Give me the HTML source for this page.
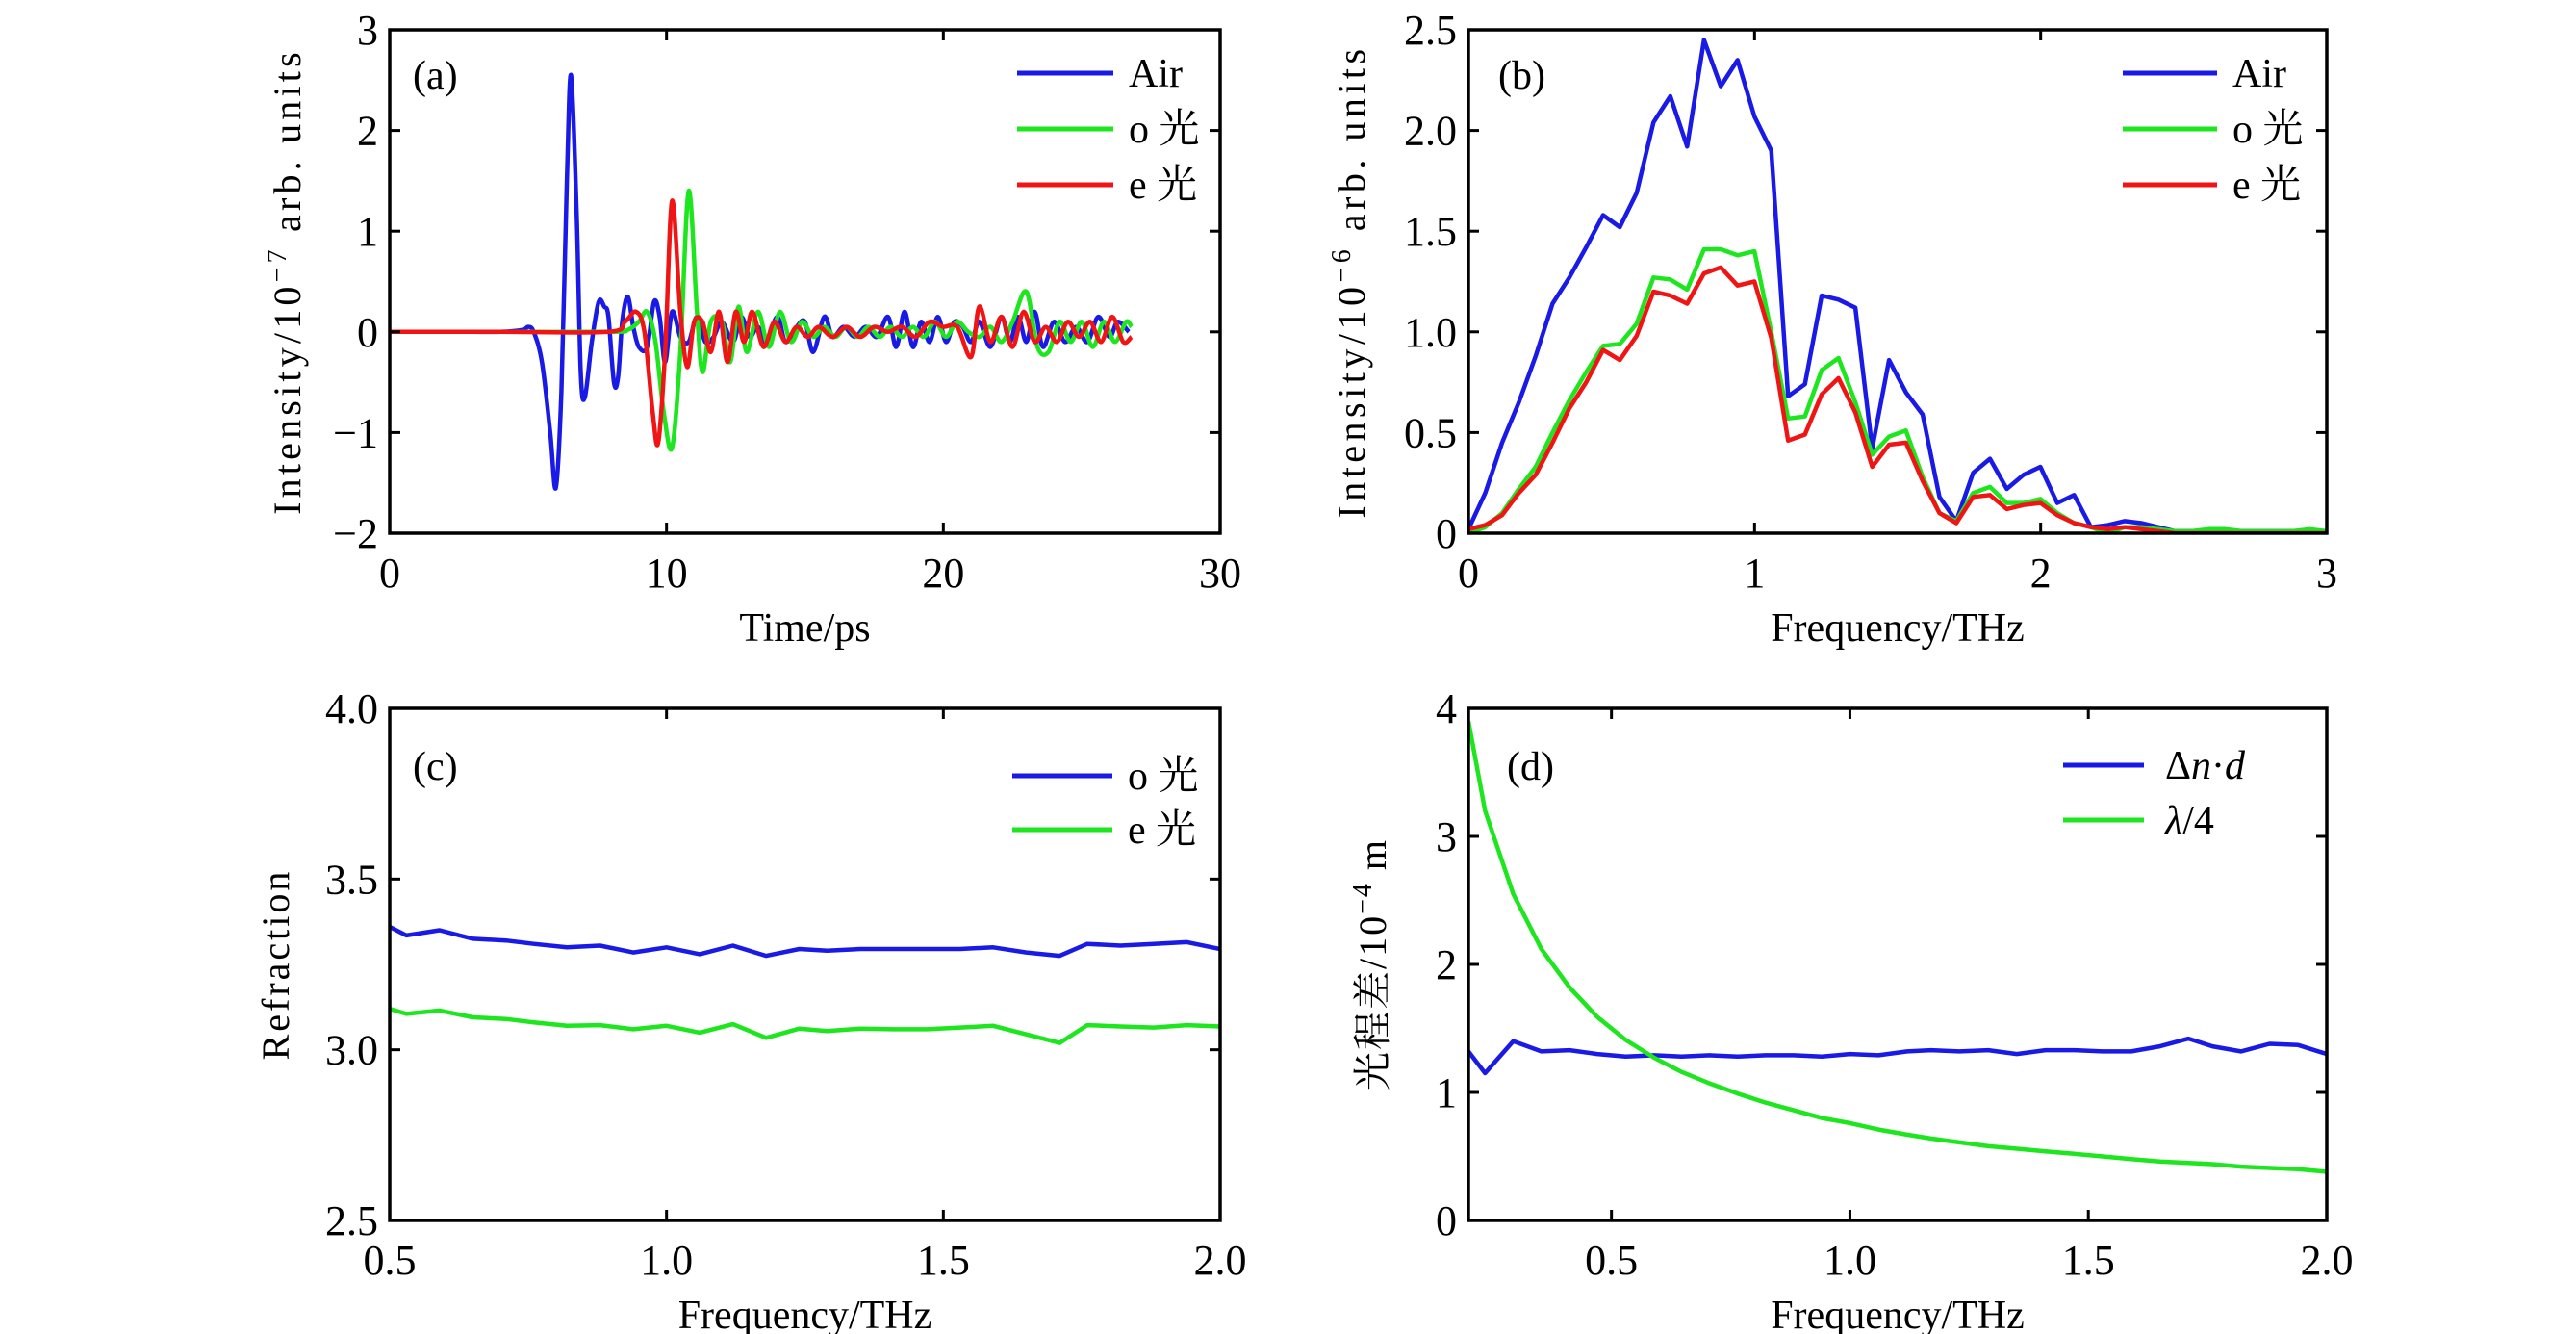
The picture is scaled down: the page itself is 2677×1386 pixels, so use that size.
<!DOCTYPE html>
<html><head><meta charset="utf-8">
<style>
html,body{margin:0;padding:0;background:#fff;}
svg{display:block;}
text{font-family:"Liberation Serif","Noto Serif CJK SC",serif;fill:#000;}
</style></head>
<body>
<svg id="fig" width="2677" height="1386" viewBox="0 0 2677 1386" xmlns="http://www.w3.org/2000/svg"></svg>
<script>
// ---- Panel (a) data: time-domain ----
const airT=[0,1,2,3,4,4.8,5.0,5.2,5.5,5.8,6.0,6.2,6.4,6.55,6.75,6.9,7.05,7.3,7.55,7.75,7.9,8.1,8.25,8.4,8.6,8.8,9.0,9.3,9.55,9.75,9.95,10.2,10.5,10.8,11.1,11.4,11.7,12.0,12.4,12.7,13.0,13.3,13.6,14.0,14.3,14.7,15.0,15.3,15.7,16.0,16.4,16.8,17.2,17.6,18.0,18.3,18.6,18.9,19.2,19.5,19.8,20.1,20.4,20.7,21.0,21.3,21.7,22.1,22.4,22.7,23.0,23.3,23.6,24.0,24.4,24.8,25.2,25.6,26.0,26.3,26.7];
const airV=[0,0,0,0,0,0.02,0.05,0,-0.3,-1.0,-1.55,-0.6,1.5,2.55,1.2,-0.4,-0.65,-0.1,0.3,0.25,0.15,-0.5,-0.45,0.1,0.35,0.05,-0.15,-0.15,0.3,0.15,-0.3,0.2,-0.05,-0.1,0.15,-0.1,-0.05,0.1,-0.1,0.15,-0.05,0.05,-0.1,0.15,-0.1,0.05,0.1,-0.2,0.15,-0.05,0.05,-0.05,0.05,-0.05,0.15,-0.15,0.2,-0.15,0.1,-0.1,0.15,-0.1,0.1,0.05,-0.1,0.1,-0.15,0.15,-0.1,0.15,-0.1,0.2,-0.15,0.1,-0.1,0.05,-0.1,0.15,-0.05,0.1,0.0];
const oT=[0,4,8,8.6,9.0,9.3,9.6,9.9,10.2,10.5,10.8,11.1,11.3,11.6,12.0,12.3,12.6,12.9,13.3,13.7,14.1,14.5,14.9,15.3,15.7,16.1,16.5,16.9,17.3,17.7,18.1,18.5,18.9,19.3,19.7,20.1,20.5,20.9,21.3,21.7,22.1,22.5,23.0,23.4,23.8,24.2,24.6,25.0,25.4,25.8,26.2,26.6,26.8];
const oV=[0,0,0,0.02,0.1,0.2,-0.1,-0.8,-1.15,-0.2,1.4,0.2,-0.4,0.1,0.1,-0.3,0.25,-0.2,0.2,-0.15,0.2,-0.1,0.1,-0.05,0.05,-0.05,0.05,-0.05,0.05,-0.05,0.05,-0.05,0.05,-0.05,0.1,-0.05,0.1,0,-0.05,0.05,-0.1,0.1,0.4,-0.15,-0.2,0.1,-0.1,0.1,-0.15,0.1,-0.1,0.1,0.05];
const eT=[0,4,7.9,8.5,8.9,9.2,9.5,9.7,9.95,10.2,10.5,10.75,11.0,11.3,11.6,11.9,12.2,12.5,12.8,13.1,13.5,13.9,14.3,14.7,15.1,15.5,16.0,16.5,17.0,17.5,18.0,18.5,19.0,19.5,20.0,20.5,21.0,21.3,21.7,22.1,22.5,22.9,23.3,23.7,24.1,24.5,24.9,25.3,25.7,26.1,26.5,26.8];
const eV=[0,0,0,0.1,0.2,0,-0.8,-1.1,-0.2,1.3,0.2,-0.35,0.1,0.1,-0.2,0.2,-0.3,0.2,-0.1,0.2,-0.15,0.1,-0.1,0.05,-0.05,0.05,-0.05,0.05,-0.05,0.05,0,0.05,-0.05,0.1,0.05,0.05,-0.25,0.25,-0.1,0.15,-0.15,0.2,-0.1,0.05,-0.1,0.1,-0.05,0.1,-0.1,0.15,-0.1,-0.05];
// ---- Panel (b) data: spectra (step 0.0588 THz) ----
const specStep=0.0588;
const specAir=[0.02,0.2,0.45,0.65,0.88,1.14,1.27,1.42,1.58,1.52,1.69,2.04,2.17,1.92,2.45,2.22,2.35,2.07,1.90,0.68,0.74,1.18,1.16,1.12,0.42,0.86,0.70,0.59,0.18,0.06,0.30,0.37,0.22,0.29,0.33,0.15,0.19,0.03,0.04,0.06,0.05,0.03,0.01,0.01,0.01,0.01,0.01,0.01,0.01,0.01,0.01,0.01];
const specO=[0.0,0.03,0.1,0.22,0.33,0.5,0.66,0.8,0.93,0.94,1.04,1.27,1.26,1.21,1.41,1.41,1.38,1.40,1.0,0.57,0.58,0.81,0.87,0.65,0.39,0.48,0.51,0.28,0.1,0.06,0.2,0.23,0.15,0.15,0.17,0.1,0.05,0.03,0.0,0.03,0.03,0.02,0.01,0.01,0.02,0.02,0.01,0.01,0.01,0.01,0.02,0.01];
const specE=[0.02,0.04,0.09,0.2,0.29,0.45,0.62,0.75,0.91,0.86,0.98,1.20,1.18,1.14,1.29,1.32,1.23,1.25,0.97,0.46,0.49,0.69,0.77,0.6,0.33,0.44,0.45,0.26,0.1,0.05,0.18,0.19,0.12,0.14,0.15,0.09,0.05,0.03,0.02,0.03,0.02,0.01,0,0,0,0,0,0,0,0,0,0];
// ---- Panel (c) data: refraction ----
const freqC=[0.5,0.53,0.59,0.65,0.71,0.76,0.82,0.88,0.94,1.0,1.06,1.12,1.18,1.24,1.29,1.35,1.41,1.47,1.53,1.59,1.65,1.71,1.76,1.82,1.88,1.94,2.0];
const refO=[3.36,3.335,3.35,3.325,3.32,3.31,3.30,3.305,3.285,3.30,3.28,3.305,3.275,3.295,3.29,3.295,3.295,3.295,3.295,3.30,3.285,3.275,3.31,3.305,3.31,3.315,3.295];
const refE=[3.12,3.105,3.115,3.095,3.09,3.08,3.07,3.072,3.06,3.07,3.05,3.075,3.035,3.062,3.055,3.062,3.06,3.06,3.065,3.07,3.045,3.02,3.072,3.068,3.065,3.072,3.068];
// ---- Panel (d) data: path difference ----
const freqD=[0.2,0.235,0.294,0.353,0.412,0.47,0.53,0.59,0.647,0.706,0.765,0.823,0.882,0.941,1.0,1.06,1.12,1.17,1.23,1.29,1.35,1.41,1.47,1.53,1.59,1.65,1.71,1.76,1.82,1.88,1.94,2.0];
const dnd=[1.32,1.15,1.4,1.32,1.33,1.3,1.28,1.29,1.28,1.29,1.28,1.29,1.29,1.28,1.3,1.29,1.32,1.33,1.32,1.33,1.30,1.33,1.33,1.32,1.32,1.36,1.42,1.36,1.32,1.38,1.37,1.30];
const quarter=[3.9,3.2,2.55,2.12,1.82,1.59,1.41,1.27,1.16,1.07,0.99,0.92,0.86,0.80,0.76,0.71,0.67,0.64,0.61,0.58,0.56,0.54,0.52,0.50,0.48,0.46,0.45,0.44,0.42,0.41,0.40,0.38];

const NS="http://www.w3.org/2000/svg";
const fig=document.getElementById('fig');
const BLUE="#1a1ae6",GREEN="#1ee61e",RED="#f01414";
function mk(tag,attrs,parent){const e=document.createElementNS(NS,tag);for(const k in attrs)e.setAttribute(k,attrs[k]);(parent||fig).appendChild(e);return e;}
function scale(d0,d1,p0,p1){return v=>p0+(v-d0)/(d1-d0)*(p1-p0);}
function linePath(xs,ys,sx,sy,smooth){
  const n=Math.min(xs.length,ys.length);const P=[];
  for(let i=0;i<n;i++)P.push([sx(xs[i]),sy(ys[i])]);
  let d="M"+P[0][0].toFixed(1)+","+P[0][1].toFixed(1);
  for(let i=1;i<n;i++){
    if(smooth){const p0=P[Math.max(0,i-2)],p1=P[i-1],p2=P[i],p3=P[Math.min(n-1,i+1)];
      const c1=[p1[0]+(p2[0]-p0[0])/6,p1[1]+(p2[1]-p0[1])/6],c2=[p2[0]-(p3[0]-p1[0])/6,p2[1]-(p3[1]-p1[1])/6];
      d+="C"+c1[0].toFixed(1)+","+c1[1].toFixed(1)+" "+c2[0].toFixed(1)+","+c2[1].toFixed(1)+" "+p2[0].toFixed(1)+","+p2[1].toFixed(1);}
    else d+="L"+P[i][0].toFixed(1)+","+P[i][1].toFixed(1);}
  return d;}

function panel(cfg){
  const g=mk('g',{});
  
  
  const {x0,x1,y0,y1}=cfg.box;
  const sx=scale(cfg.xd[0],cfg.xd[1],x0,x1), sy=scale(cfg.yd[0],cfg.yd[1],y1,y0);
  const clip=mk('clipPath',{id:'clip-'+cfg.name},g);mk('rect',{x:x0,y:y0-6,width:x1-x0,height:y1-y0+6},clip);
  const sg=mk('g',{'clip-path':'url(#clip-'+cfg.name+')'},g);
  cfg.series.forEach(s=>{
    const p=mk('path',{d:linePath(s.x,s.y,sx,sy,cfg.smooth),fill:'none',stroke:s.color,'stroke-width':4.5,'stroke-linejoin':'round'},sg);
    
    
  });
  cfg.xt.forEach((t,i)=>{const X=sx(t);
    mk('line',{x1:X,x2:X,y1:y1,y2:y1-11,stroke:'#000','stroke-width':3},g);
    mk('line',{x1:X,x2:X,y1:y0,y2:y0+11,stroke:'#000','stroke-width':3},g);
    if(cfg.xl[i]!==''){const tx=mk('text',{x:X,y:y1+56,'font-size':44,'text-anchor':'middle'},g);tx.textContent=cfg.xl[i];
      
      }
  });
  cfg.yt.forEach((t,i)=>{const Y=sy(t);
    mk('line',{x1:x0,x2:x0+11,y1:Y,y2:Y,stroke:'#000','stroke-width':3},g);
    mk('line',{x1:x1,x2:x1-11,y1:Y,y2:Y,stroke:'#000','stroke-width':3},g);
    const tx=mk('text',{x:x0-12,y:Y+15,'font-size':44,'text-anchor':'end'},g);tx.textContent=cfg.yl[i];
    
    
  });
  const fr=mk('rect',{x:x0,y:y0,width:x1-x0,height:y1-y0,fill:'none',stroke:'#000','stroke-width':3.5},g);
  
  
  const xt=mk('text',{x:(x0+x1)/2,y:cfg.xtitleY,'font-size':42,'text-anchor':'middle'},g);xt.textContent=cfg.xtitle;
  
  
  const yt=mk('text',{x:0,y:0,'font-size':40,'text-anchor':'middle','letter-spacing':cfg.ls||0,transform:`translate(${cfg.ytitleX},${(y0+y1)/2}) rotate(-90)`},g);
  
  
  cfg.ytitle.forEach(seg=>{const ts=mk('tspan',seg.sup?{'baseline-shift':'super','font-size':28}:{},yt);ts.textContent=seg.t;});
  const pl=mk('text',{x:cfg.tag[0],y:cfg.tag[1],'font-size':42},g);pl.textContent=cfg.tagText;
  
  
  cfg.series.forEach((s,i)=>{const L=cfg.leg;const Y=L.y+i*L.dy;
    const lg=mk('g',{},g);
    
    
    mk('line',{x1:L.x,x2:L.x+L.w,y1:Y,y2:Y,stroke:s.color,'stroke-width':5},lg);
    const t=mk('text',{x:L.x+L.w+L.gap,y:Y+14,'font-size':42},lg);
    (s.parts||[{t:s.label}]).forEach(pt=>{const ts=mk('tspan',pt.i?{'font-style':'italic'}:{},t);ts.textContent=pt.t;});
  });
}

panel({name:'panel-a-time-domain',box:{x0:405,x1:1268,y0:31,y1:554},xd:[0,30],yd:[-2,3],smooth:true,
  xt:[0,10,20,30],xl:['0','10','20','30'],yt:[-2,-1,0,1,2,3],yl:['\u22122','\u22121','0','1','2','3'],
  xtitle:'Time/ps',xtitleY:666,ytitleX:312,ls:4.2,ytitle:[{t:'Intensity/10'},{t:'\u22127',sup:true},{t:' arb. units'}],
  tag:[429,92],tagText:'(a)',leg:{x:1057,w:100,y:76,dy:58,gap:16},
  series:[{id:'air',x:airT,y:airV,color:BLUE,label:'Air'},{id:'o-light',x:oT,y:oV,color:GREEN,label:'o 光'},{id:'e-light',x:eT,y:eV,color:RED,label:'e 光'}]});

const specF=specAir.map((_,i)=>i*specStep);
panel({name:'panel-b-spectrum',box:{x0:1526,x1:2418,y0:31,y1:554},xd:[0,3],yd:[0,2.5],smooth:false,
  xt:[0,1,2,3],xl:['0','1','2','3'],yt:[0,0.5,1,1.5,2,2.5],yl:['0','0.5','1.0','1.5','2.0','2.5'],
  xtitle:'Frequency/THz',xtitleY:666,ytitleX:1418,ls:4.5,ytitle:[{t:'Intensity/10'},{t:'\u22126',sup:true},{t:' arb. units'}],
  tag:[1557,92],tagText:'(b)',leg:{x:2206,w:98,y:76,dy:58,gap:16},
  series:[{id:'air',x:specF,y:specAir,color:BLUE,label:'Air'},{id:'o-light',x:specF,y:specO,color:GREEN,label:'o 光'},{id:'e-light',x:specF,y:specE,color:RED,label:'e 光'}]});

panel({name:'panel-c-refraction',box:{x0:405,x1:1268,y0:736,y1:1268},xd:[0.5,2.0],yd:[2.5,4.0],smooth:false,
  xt:[0.5,1.0,1.5,2.0],xl:['0.5','1.0','1.5','2.0'],yt:[2.5,3.0,3.5,4.0],yl:['2.5','3.0','3.5','4.0'],
  xtitle:'Frequency/THz',xtitleY:1380,ytitleX:300,ls:3,ytitle:[{t:'Refraction'}],
  tag:[429,810],tagText:'(c)',leg:{x:1052,w:104,y:806,dy:56,gap:16},
  series:[{id:'o-light',x:freqC,y:refO,color:BLUE,label:'o 光'},{id:'e-light',x:freqC,y:refE,color:GREEN,label:'e 光'}]});

panel({name:'panel-d-path-difference',box:{x0:1526,x1:2418,y0:736,y1:1268},xd:[0.2,2.0],yd:[0,4],smooth:false,
  xt:[0.5,1.0,1.5,2.0],xl:['0.5','1.0','1.5','2.0'],yt:[0,1,2,3,4],yl:['0','1','2','3','4'],
  xtitle:'Frequency/THz',xtitleY:1380,ytitleX:1440,ls:2,ytitle:[{t:'光程差/10'},{t:'\u22124',sup:true},{t:' m'}],
  tag:[1566,810],tagText:'(d)',leg:{x:2144,w:84,y:795,dy:57,gap:22},
  series:[{id:'delta-n-d',x:freqD,y:dnd,color:BLUE,label:'\u0394n\u00b7d',parts:[{t:'\u0394'},{t:'n',i:true},{t:'\u00b7'},{t:'d',i:true}]},{id:'lambda-quarter',x:freqD,y:quarter,color:GREEN,label:'\u03bb/4',parts:[{t:'\u03bb',i:true},{t:'/4'}]}]});
</script>
</body></html>
